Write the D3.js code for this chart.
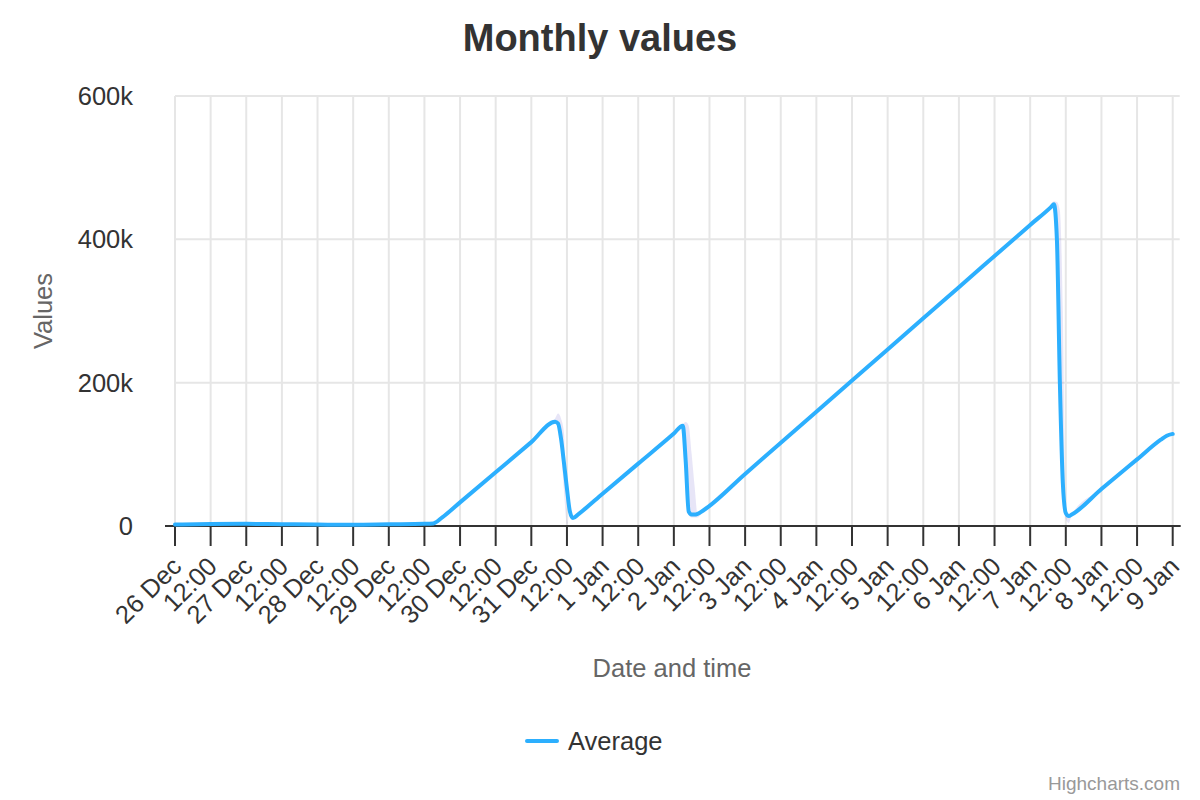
<!DOCTYPE html>
<html>
<head>
<meta charset="utf-8">
<script src="https://cdn.jsdelivr.net/npm/d3@7"></script>
<style>
  html, body { margin: 0; padding: 0; background: #fff; }
  svg { display: block; font-family: "Liberation Sans", Arial, Helvetica, sans-serif; }
</style>
</head>
<body>
<svg id="chart" width="1200" height="800"></svg>
<script>
// ---- data (values in thousands) ----
const times = [
  "2023-12-26T00:00","2023-12-26T12:00","2023-12-27T00:00","2023-12-27T12:00",
  "2023-12-28T00:00","2023-12-28T12:00","2023-12-29T00:00","2023-12-29T12:00",
  "2023-12-29T15:00","2023-12-29T18:00","2023-12-30T00:00","2023-12-30T12:00",
  "2023-12-31T00:00","2023-12-31T08:00","2023-12-31T09:00","2023-12-31T10:00",
  "2023-12-31T11:00","2023-12-31T12:00","2023-12-31T13:00","2023-12-31T14:00",
  "2023-12-31T16:00","2024-01-01T00:00","2024-01-01T12:00","2024-01-02T00:00",
  "2024-01-02T03:00","2024-01-02T04:00","2024-01-02T05:00","2024-01-02T06:00",
  "2024-01-02T07:00","2024-01-02T08:00","2024-01-02T10:00","2024-01-03T00:00",
  "2024-01-04T00:00","2024-01-05T00:00","2024-01-06T00:00","2024-01-07T00:00",
  "2024-01-07T07:00","2024-01-07T08:00","2024-01-07T09:00","2024-01-07T10:00",
  "2024-01-07T11:00","2024-01-07T12:00","2024-01-07T13:00","2024-01-07T14:00",
  "2024-01-08T00:00","2024-01-08T12:00","2024-01-08T20:00","2024-01-08T22:00",
  "2024-01-09T00:00"
];
const average = [
  2.0, 2.8, 3.0, 2.6,
  2.0, 1.8, 2.4, 3.0,
  3.6, 12, 33, 75,
  117, 145.5, 143, 122,
  88, 52, 20, 11,
  17, 45, 87, 129,
  140, 90, 20, 16,
  16, 17, 22, 72.7,
  159.5, 246.4, 333.2, 420.1,
  445, 449, 400, 200,
  60, 18, 14, 16,
  51.5, 93, 120.5, 126, 128.5
];
const rangeLow = [
  2.0, 2.8, 3.0, 2.6,
  2.0, 1.8, 2.4, 3.0,
  3.6, 12, 33, 75,
  117, 145.5, 138, 110,
  50, 2, 18, 11,
  17, 45, 87, 129,
  138, 85, 15, 12,
  12, 12, 22, 72.7,
  159.5, 246.4, 333.2, 420.1,
  445, 447, 390, 190,
  55, 10, 4, 16,
  51.5, 93, 120.5, 126, 128.5
];
const rangeHigh = [
  2.0, 2.8, 3.0, 2.6,
  2.0, 1.8, 2.4, 3.0,
  3.6, 12, 33, 75,
  117, 150, 157, 150,
  130, 5, 20, 11,
  17, 45, 87, 129,
  142, 145, 140, 100,
  55, 16, 22, 72.7,
  159.5, 246.4, 333.2, 420.1,
  448, 453, 452, 440,
  300, 20, 14, 16,
  51.5, 93, 120.5, 126, 128.5
];
const yTicks = [0, 200, 400, 600];
const yTickLabels = ["0", "200k", "400k", "600k"];
const seriesName = "Average";
const chartTitle = "Monthly values";
const xTitle = "Date and time";
const yTitle = "Values";

// ---- layout ----
const svg = d3.select("#chart");
const L = 175, R = 1172.7, T = 96, B = 526;
const FS = 25.5;
const parse = d3.timeParse("%Y-%m-%dT%H:%M");
const data = times.map((t, i) => ({ t: parse(t), v: average[i], lo: rangeLow[i], hi: rangeHigh[i] }));

const x = d3.scaleTime().domain(d3.extent(data, d => d.t)).range([L, R]);
const y = d3.scaleLinear().domain([0, 600]).range([B, T]);

// title
svg.append("text").attr("x", 600).attr("y", 51).attr("text-anchor", "middle")
  .attr("font-size", 38).attr("font-weight", "bold").attr("fill", "#333").text(chartTitle);

// gridlines
const xTickVals = x.ticks(d3.timeHour.every(12));
svg.append("g").selectAll("line").data(xTickVals).join("line")
  .attr("x1", d => x(d)).attr("x2", d => x(d)).attr("y1", T).attr("y2", B)
  .attr("stroke", "#e6e6e6").attr("stroke-width", 2);
svg.append("g").selectAll("line").data(yTicks).join("line")
  .attr("x1", L).attr("x2", R + 7).attr("y1", d => y(d)).attr("y2", d => y(d))
  .attr("stroke", "#e6e6e6").attr("stroke-width", 2);

// y labels
svg.append("g").selectAll("text").data(yTicks).join("text")
  .attr("x", 133).attr("y", d => y(d) + 9).attr("text-anchor", "end")
  .attr("font-size", FS).attr("fill", "#333").text((d, i) => yTickLabels[i]);

// y title
svg.append("text").attr("transform", "translate(52,311) rotate(-90)")
  .attr("text-anchor", "middle").attr("font-size", FS).attr("fill", "#666").text(yTitle);

// x axis line + ticks
svg.append("line").attr("x1", L - 10).attr("x2", R + 8).attr("y1", B).attr("y2", B)
  .attr("stroke", "#333").attr("stroke-width", 2);
svg.append("g").selectAll("line").data(xTickVals).join("line")
  .attr("x1", d => x(d)).attr("x2", d => x(d)).attr("y1", B).attr("y2", B + 20)
  .attr("stroke", "#333").attr("stroke-width", 2);

const fmt = d => d.getHours() === 0 ? d3.timeFormat("%-d %b")(d) : d3.timeFormat("%H:%M")(d);
svg.append("g").selectAll("text").data(xTickVals).join("text")
  .attr("transform", d => `translate(${x(d) + 8},${B + 42}) rotate(-45)`)
  .attr("text-anchor", "end").attr("font-size", FS).attr("fill", "#333").text(fmt);

// x title
svg.append("text").attr("x", 672).attr("y", 677).attr("text-anchor", "middle")
  .attr("font-size", FS).attr("fill", "#666").text(xTitle);

// range area
const area = d3.area().x(d => x(d.t)).y0(d => y(d.lo)).y1(d => y(d.hi)).curve(d3.curveMonotoneX);
svg.append("path").datum(data).attr("d", area).attr("fill", "#6b5fd0").attr("fill-opacity", 0.16);

// line
const line = d3.line().x(d => x(d.t)).y(d => y(d.v)).curve(d3.curveMonotoneX);
svg.append("path").datum(data).attr("d", line).attr("fill", "none")
  .attr("stroke", "#2caffe").attr("stroke-width", 4).attr("stroke-linejoin", "round").attr("stroke-linecap", "round");

// legend
svg.append("line").attr("x1", 527).attr("x2", 557).attr("y1", 741).attr("y2", 741)
  .attr("stroke", "#2caffe").attr("stroke-width", 4).attr("stroke-linecap", "round");
svg.append("text").attr("x", 568).attr("y", 750).attr("font-size", FS).attr("fill", "#333").text(seriesName);

// credits
svg.append("text").attr("x", 1180).attr("y", 790).attr("text-anchor", "end")
  .attr("font-size", 19).attr("fill", "#999").text("Highcharts.com");
</script>
</body>
</html>
